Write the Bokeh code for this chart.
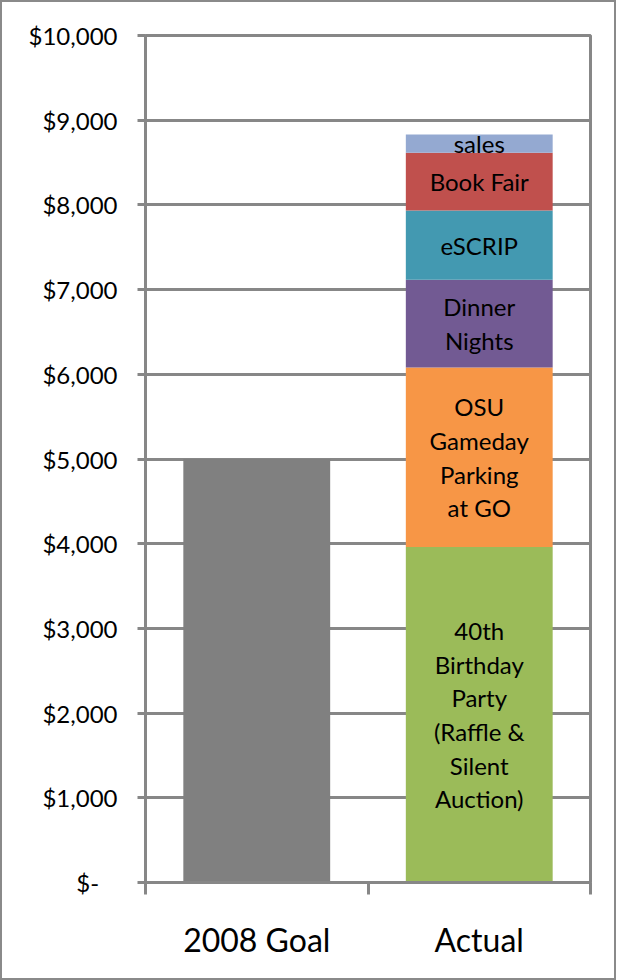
import numpy as np
from bokeh.plotting import figure
from bokeh.models import Range1d, FixedTicker, ColumnDataSource
from bokeh.core.properties import value
from bokeh.embed import file_html
from bokeh.resources import INLINE

# ---- data ----
categories = ["2008 Goal", "Actual"]
goal_value = 5000
segment_names = ["40th\nBirthday\nParty\n(Raffle &\nSilent\nAuction)",
                 "OSU\nGameday\nParking\nat GO",
                 "Dinner\nNights",
                 "eSCRIP",
                 "Book Fair",
                 "sales"]
segment_values = [3960, 2120, 1035, 820, 680, 215]
segment_colors = ["#9BBB59", "#F79646", "#725A93", "#4399B1", "#C0504D", "#94A9D1"]
y_ticks = list(range(0, 10001, 1000))
y_tick_labels = ["$-\u00a0\u00a0\u00a0"] + ["${:,}".format(t) for t in y_ticks[1:]]

GRID = "#878787"
FONT = "Lato"

p = figure(width=616, height=980, output_backend="svg", toolbar_location=None,
           x_range=Range1d(0, len(categories)), y_range=Range1d(0, 10000),
           min_border_left=143, min_border_right=28, min_border_top=33, min_border_bottom=100)
p.styles = {"border": "2px solid #8a8a8a"}

xpos = [i + 0.5 for i, _ in enumerate(categories)]

# goal bar
p.vbar(x=[xpos[0]], top=[goal_value], bottom=[0], width=0.66, color="#808080", line_color=None)

# stacked actual bar
tops = np.cumsum(segment_values)
bottoms = tops - np.array(segment_values)
src = ColumnDataSource(dict(x=[xpos[1]] * len(segment_values), top=tops, bottom=bottoms,
                            mid=(tops + bottoms) / 2, color=segment_colors, name=segment_names))
p.vbar(x="x", top="top", bottom="bottom", width=0.66, fill_color="color", line_color=None, source=src)
p.text(x="x", y="mid", text="name", source=src, text_align="center", text_baseline="middle",
       text_font=value(FONT), text_font_size="24px", text_color="black", text_line_height=1.16)

# axes
p.yaxis.ticker = FixedTicker(ticks=y_ticks)
p.yaxis.major_label_overrides = {t: l for t, l in zip(y_ticks, y_tick_labels)}
p.yaxis.major_label_text_font = FONT
p.yaxis.major_label_text_font_size = "24px"
p.yaxis.major_label_text_color = "black"
p.yaxis.major_tick_in = 0
p.yaxis.major_tick_out = 8
p.yaxis.minor_tick_line_color = None
p.yaxis.major_tick_line_color = GRID
p.yaxis.major_tick_line_width = 3
p.yaxis.axis_line_color = GRID
p.yaxis.axis_line_width = 3
p.yaxis.major_label_standoff = 20

p.xaxis.ticker = FixedTicker(ticks=xpos, minor_ticks=list(range(len(categories) + 1)))
p.xaxis.major_label_overrides = {x: c for x, c in zip(xpos, categories)}
p.xaxis.major_tick_line_color = None
p.xaxis.minor_tick_line_color = GRID
p.xaxis.minor_tick_line_width = 3
p.xaxis.minor_tick_in = 0
p.xaxis.minor_tick_out = 12
p.xaxis.axis_line_color = GRID
p.xaxis.axis_line_width = 3
p.xaxis.major_label_text_font = FONT
p.xaxis.major_label_text_font_size = "32px"
p.xaxis.major_label_text_color = "black"
p.xaxis.major_label_standoff = 25

p.xgrid.grid_line_color = None
p.ygrid.grid_line_color = GRID
p.ygrid.grid_line_width = 3
p.outline_line_color = GRID
p.outline_line_width = 3
p.background_fill_color = "white"
p.border_fill_color = "white"

open("out.html", "w").write(file_html(p, INLINE))
